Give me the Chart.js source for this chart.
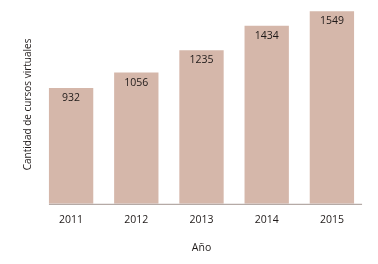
<!DOCTYPE html>
<html>
<head>
<meta charset="utf-8">
<script src="https://cdn.jsdelivr.net/npm/chart.js@4"></script>
<style>
  html, body { margin: 0; padding: 0; background: #ffffff; }
  #wrap { width: 378px; height: 264px; }
</style>
</head>
<body>
<div id="wrap"><canvas id="grafico"></canvas></div>
<script>
// datos del grafico
const anios = ["2011", "2012", "2013", "2014", "2015"];
const cursosVirtuales = [932, 1056, 1235, 1434, 1549];

const colorBarra = "#d5b7aa";
const colorTexto = "#1f1a19";
const fuente = "'Open Sans', 'Noto Sans', sans-serif";

// etiquetas de valor dentro de cada barra
const etiquetasValor = {
  id: "etiquetasValor",
  afterDatasetsDraw(chart) {
    const ctx = chart.ctx;
    const meta = chart.getDatasetMeta(0);
    ctx.save();
    ctx.font = "10.5px " + fuente;
    ctx.fillStyle = colorTexto;
    ctx.textAlign = "center";
    ctx.textBaseline = "middle";
    meta.data.forEach((barra, i) => {
      ctx.fillText(cursosVirtuales[i], barra.x, barra.y + 10);
    });
    ctx.restore();
  }
};

// linea del eje x, desde la primera barra hasta poco despues de la ultima
const lineaEje = {
  id: "lineaEje",
  afterDatasetsDraw(chart) {
    const ctx = chart.ctx;
    const meta = chart.getDatasetMeta(0);
    const primera = meta.data[0];
    const ultima = meta.data[meta.data.length - 1];
    const y = chart.scales.y.getPixelForValue(0);
    ctx.save();
    ctx.strokeStyle = "#a39590";
    ctx.lineWidth = 1;
    ctx.beginPath();
    ctx.moveTo(primera.x - primera.width / 2, y + 0.5);
    ctx.lineTo(ultima.x + ultima.width / 2 + 8, y + 0.5);
    ctx.stroke();
    ctx.restore();
  }
};

const config = {
  type: "bar",
  data: {
    labels: anios,
    datasets: [
      {
        data: cursosVirtuales,
        backgroundColor: colorBarra,
        borderWidth: 0,
        categoryPercentage: 1,
        barPercentage: 0.68
      }
    ]
  },
  options: {
    responsive: true,
    maintainAspectRatio: false,
    animation: false,
    layout: { padding: { left: 18.5, right: 13.5, top: 5, bottom: 6 } },
    plugins: {
      legend: { display: false },
      tooltip: { enabled: false }
    },
    scales: {
      x: {
        grid: { display: false, drawTicks: false },
        border: { display: false },
        ticks: {
          color: colorTexto,
          font: { family: fuente, size: 10.5 },
          padding: 10
        },
        title: {
          display: true,
          text: "Año",
          color: colorTexto,
          font: { family: fuente, size: 10.5 },
          padding: { top: 5, bottom: 4 }
        }
      },
      y: {
        min: 0,
        max: 1600,
        grid: { display: false, drawTicks: false },
        border: { display: false },
        ticks: { display: false },
        title: {
          display: true,
          text: "Cantidad de cursos virtuales",
          color: colorTexto,
          font: { family: fuente, size: 10 },
          padding: { top: 4, bottom: 4 }
        }
      }
    }
  },
  plugins: [etiquetasValor, lineaEje]
};

new Chart(document.getElementById("grafico"), config);
</script>
</body>
</html>
